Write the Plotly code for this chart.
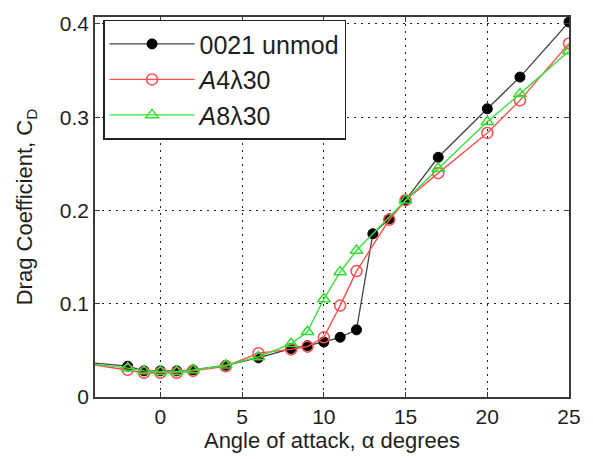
import plotly.graph_objects as go

# Angle of attack (degrees) and drag coefficient for each foil
alpha_base = [-5, -2, -1, 0, 1, 2, 4, 6, 8, 9, 10, 11, 12, 13, 14, 15, 17, 20, 22, 25]
cd_base = [0.038, 0.033, 0.028, 0.028, 0.028, 0.029, 0.034, 0.042, 0.052, 0.055, 0.059,
           0.064, 0.072, 0.175, 0.191, 0.211, 0.257, 0.309, 0.343, 0.402]

alpha_a4 = [-5, -2, -1, 0, 1, 2, 4, 6, 8, 9, 10, 11, 12, 14, 15, 17, 20, 22, 25]
cd_a4 = [0.037, 0.029, 0.026, 0.026, 0.026, 0.028, 0.033, 0.047, 0.051, 0.054, 0.064,
         0.098, 0.135, 0.190, 0.211, 0.240, 0.283, 0.318, 0.379]

alpha_a8 = [-5, -2, -1, 0, 1, 2, 4, 6, 8, 9, 10, 11, 12, 15, 17, 20, 22, 25]
cd_a8 = [0.037, 0.031, 0.028, 0.027, 0.027, 0.029, 0.034, 0.043, 0.057, 0.070, 0.105,
         0.134, 0.157, 0.211, 0.245, 0.295, 0.325, 0.371]

names = ["0021 unmod", "<i>A</i>4λ30", "<i>A</i>8λ30"]
x_ticks = [0, 5, 10, 15, 20, 25]
y_ticks = [0, 0.1, 0.2, 0.3, 0.4]

FONT = "Liberation Sans, Arial, sans-serif"
TEXT = "#1e1e1e"

fig = go.Figure()
fig.add_trace(go.Scatter(
    x=alpha_base, y=cd_base, name=names[0], mode="lines+markers",
    line=dict(color="#454545", width=1.3),
    marker=dict(symbol="circle", size=10, color="black", line=dict(color="black", width=1)),
))
fig.add_trace(go.Scatter(
    x=alpha_a4, y=cd_a4, name=names[1], mode="lines+markers",
    line=dict(color="#ff5050", width=1.4),
    marker=dict(symbol="circle-open", size=11, color="#ff4a4a", line=dict(width=1.5)),
))
fig.add_trace(go.Scatter(
    x=alpha_a8, y=cd_a8, name=names[2], mode="lines+markers",
    line=dict(color="#3ddd3d", width=1.4),
    marker=dict(symbol="triangle-up-open", size=11, color="#33dd33", line=dict(width=1.5)),
))

axis_common = dict(
    showline=True, linecolor="#3a3a3a", linewidth=1.6, mirror="ticks",
    ticks="inside", ticklen=5, tickcolor="#3a3a3a", tickwidth=1,
    showgrid=True, gridcolor="#222222", gridwidth=1.2, griddash="2px,5px",
    zeroline=False,
    tickfont=dict(family=FONT, size=21, color=TEXT),
)

fig.update_xaxes(
    range=[-4, 25], tickvals=x_ticks, ticktext=[str(v) for v in x_ticks],
    title=dict(text="Angle of attack, α degrees", font=dict(family=FONT, size=22, color=TEXT),
               standoff=2),
    **axis_common,
)
fig.update_yaxes(
    range=[0, 0.4074], tickvals=y_ticks, ticktext=["0", "0.1", "0.2", "0.3", "0.4"],
    title=dict(text="Drag Coefficient, C<sub>D</sub>", font=dict(family=FONT, size=22, color=TEXT),
               standoff=21),
    **axis_common,
)

fig.update_layout(
    width=593, height=459,
    margin=dict(l=95, r=20, t=14, b=62),
    paper_bgcolor="white", plot_bgcolor="white",
    font=dict(family=FONT, color=TEXT),
    legend=dict(
        x=0.017, y=0.993, xanchor="left", yanchor="top",
        bgcolor="white", bordercolor="#222222", borderwidth=1.5,
        font=dict(family=FONT, size=25, color=TEXT),
        itemwidth=85,
    ),
)

fig.write_html("out.html")
